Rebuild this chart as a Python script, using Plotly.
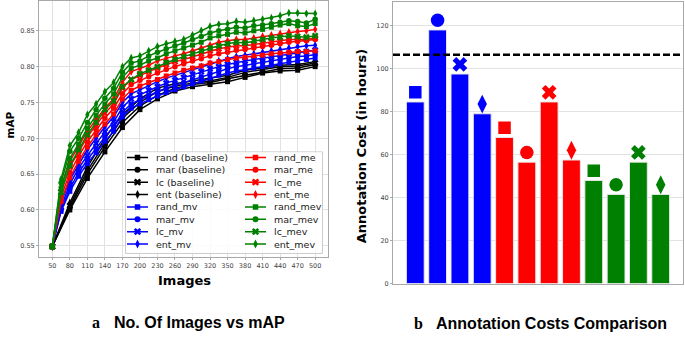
import plotly.graph_objects as go

W, H = 685, 337

# ---------------- data: left chart (mAP vs number of images) ----------------
x_sampled = [50, 65, 80, 95, 110, 125, 140, 155, 170, 185, 200, 215, 230, 245, 260, 275,
             290, 305, 320, 335, 350, 365, 380, 395, 410, 425, 440, 455, 470, 485, 500]
x_baseline = [50, 80, 110, 140, 170, 200, 230, 260, 290, 320, 350, 380, 410, 440, 470, 500]
x_ticks = [50, 80, 110, 140, 170, 200, 230, 260, 290, 320, 350, 380, 410, 440, 470, 500]
y_ticks = [0.55, 0.60, 0.65, 0.70, 0.75, 0.80, 0.85]

rand_baseline = [0.549, 0.600, 0.644, 0.681, 0.715, 0.740, 0.755, 0.766, 0.772, 0.775, 0.779, 0.785, 0.791, 0.794, 0.795, 0.800]
mar_baseline = [0.549, 0.603, 0.650, 0.688, 0.722, 0.745, 0.760, 0.770, 0.775, 0.778, 0.783, 0.788, 0.793, 0.797, 0.798, 0.803]
lc_baseline = [0.549, 0.606, 0.655, 0.693, 0.728, 0.750, 0.765, 0.773, 0.777, 0.780, 0.785, 0.792, 0.796, 0.800, 0.801, 0.805]
ent_baseline = [0.549, 0.610, 0.660, 0.700, 0.733, 0.755, 0.770, 0.776, 0.780, 0.784, 0.788, 0.795, 0.798, 0.802, 0.803, 0.807]

rand_mv = [0.549, 0.598, 0.626, 0.647, 0.665, 0.680, 0.696, 0.710, 0.730, 0.742, 0.748, 0.754, 0.759, 0.764, 0.768, 0.772,
           0.776, 0.780, 0.784, 0.788, 0.791, 0.794, 0.796, 0.798, 0.800, 0.802, 0.804, 0.806, 0.808, 0.810, 0.812]
mar_mv = [0.549, 0.600, 0.630, 0.652, 0.670, 0.686, 0.702, 0.716, 0.736, 0.748, 0.754, 0.760, 0.765, 0.770, 0.774, 0.778,
          0.782, 0.786, 0.790, 0.794, 0.797, 0.800, 0.802, 0.804, 0.806, 0.808, 0.810, 0.812, 0.814, 0.815, 0.817]
lc_mv = [0.549, 0.604, 0.636, 0.658, 0.676, 0.693, 0.709, 0.723, 0.743, 0.755, 0.761, 0.767, 0.772, 0.777, 0.781, 0.785,
         0.789, 0.793, 0.797, 0.800, 0.803, 0.806, 0.808, 0.810, 0.812, 0.814, 0.816, 0.818, 0.820, 0.821, 0.823]
ent_mv = [0.549, 0.610, 0.642, 0.664, 0.684, 0.700, 0.716, 0.730, 0.750, 0.762, 0.768, 0.774, 0.779, 0.784, 0.788, 0.792,
          0.796, 0.800, 0.804, 0.808, 0.811, 0.814, 0.816, 0.818, 0.820, 0.822, 0.824, 0.826, 0.828, 0.829, 0.830]

rand_me = [0.549, 0.612, 0.645, 0.668, 0.688, 0.705, 0.720, 0.734, 0.755, 0.767, 0.773, 0.778, 0.782, 0.787, 0.791, 0.795,
           0.798, 0.801, 0.805, 0.807, 0.810, 0.812, 0.813, 0.815, 0.816, 0.818, 0.819, 0.820, 0.821, 0.821, 0.822]
mar_me = [0.549, 0.618, 0.652, 0.675, 0.695, 0.712, 0.728, 0.742, 0.762, 0.775, 0.781, 0.786, 0.791, 0.796, 0.800, 0.804,
          0.808, 0.811, 0.815, 0.818, 0.820, 0.823, 0.824, 0.826, 0.828, 0.830, 0.832, 0.834, 0.835, 0.836, 0.838]
lc_me = [0.549, 0.625, 0.660, 0.682, 0.702, 0.718, 0.735, 0.748, 0.770, 0.782, 0.788, 0.793, 0.798, 0.803, 0.807, 0.810,
         0.814, 0.818, 0.822, 0.825, 0.827, 0.829, 0.829, 0.831, 0.833, 0.835, 0.836, 0.838, 0.838, 0.838, 0.840]
ent_me = [0.549, 0.632, 0.668, 0.690, 0.710, 0.726, 0.742, 0.755, 0.778, 0.793, 0.797, 0.802, 0.808, 0.812, 0.815, 0.818,
          0.822, 0.826, 0.830, 0.834, 0.836, 0.838, 0.838, 0.840, 0.842, 0.844, 0.846, 0.848, 0.849, 0.850, 0.852]

rand_mev = [0.549, 0.630, 0.672, 0.692, 0.714, 0.732, 0.748, 0.762, 0.785, 0.798, 0.802, 0.808, 0.812, 0.818, 0.822, 0.826,
            0.830, 0.834, 0.840, 0.843, 0.845, 0.848, 0.847, 0.850, 0.852, 0.855, 0.858, 0.860, 0.857, 0.856, 0.860]
mar_mev = [0.549, 0.638, 0.682, 0.700, 0.722, 0.740, 0.756, 0.770, 0.792, 0.805, 0.808, 0.815, 0.820, 0.825, 0.829, 0.833,
           0.838, 0.842, 0.847, 0.850, 0.852, 0.855, 0.854, 0.857, 0.858, 0.860, 0.862, 0.864, 0.863, 0.861, 0.866]
lc_mev = [0.549, 0.625, 0.662, 0.684, 0.705, 0.722, 0.740, 0.752, 0.772, 0.782, 0.790, 0.795, 0.800, 0.806, 0.810, 0.814,
          0.818, 0.822, 0.826, 0.829, 0.832, 0.834, 0.833, 0.836, 0.838, 0.840, 0.841, 0.843, 0.842, 0.841, 0.843]
ent_mev = [0.549, 0.643, 0.690, 0.708, 0.733, 0.748, 0.765, 0.778, 0.800, 0.812, 0.815, 0.822, 0.828, 0.832, 0.835, 0.838,
           0.844, 0.850, 0.856, 0.859, 0.860, 0.863, 0.862, 0.864, 0.866, 0.868, 0.871, 0.875, 0.875, 0.874, 0.874]

# ---------------- data: right chart (annotation cost) ----------------
bar_labels = ["rand_mv", "mar_mv", "lc_mv", "ent_mv",
              "rand_me", "mar_me", "lc_me", "ent_me",
              "rand_mev", "mar_mev", "lc_mev", "ent_mev"]
bar_costs = [84.5, 118, 97.5, 79, 68, 56.5, 84.5, 57.5, 48, 41.5, 56.5, 41.5]
baseline_cost = 106.5
cost_ticks = [0, 20, 40, 60, 80, 100, 120]

# ---------------- styles ----------------
BLACK, BLUE, RED, GREEN = "#000000", "#0000ff", "#ff0000", "#008000"
SYM = {"rand": "square", "mar": "circle", "lc": "x", "ent": "diamond-tall"}
MSIZE = {"rand": 5, "mar": 5.5, "lc": 6, "ent": 6}
BSIZE = {"rand": 12.5, "mar": 13.5, "lc": 13, "ent": 13.5}

series = [
    ("rand (baseline)", "rand", BLACK, x_baseline, rand_baseline),
    ("mar (baseline)", "mar", BLACK, x_baseline, mar_baseline),
    ("lc (baseline)", "lc", BLACK, x_baseline, lc_baseline),
    ("ent (baseline)", "ent", BLACK, x_baseline, ent_baseline),
    ("rand_mv", "rand", BLUE, x_sampled, rand_mv),
    ("mar_mv", "mar", BLUE, x_sampled, mar_mv),
    ("lc_mv", "lc", BLUE, x_sampled, lc_mv),
    ("ent_mv", "ent", BLUE, x_sampled, ent_mv),
    ("rand_me", "rand", RED, x_sampled, rand_me),
    ("mar_me", "mar", RED, x_sampled, mar_me),
    ("lc_me", "lc", RED, x_sampled, lc_me),
    ("ent_me", "ent", RED, x_sampled, ent_me),
    ("rand_mev", "rand", GREEN, x_sampled, rand_mev),
    ("mar_mev", "mar", GREEN, x_sampled, mar_mev),
    ("lc_mev", "lc", GREEN, x_sampled, lc_mev),
    ("ent_mev", "ent", GREEN, x_sampled, ent_mev),
]

fig = go.Figure()

for name, kind, col, xs, ys in series:
    fig.add_trace(go.Scatter(
        x=xs, y=ys, name=name, mode="lines+markers", showlegend=False,
        line=dict(color=col, width=1.5),
        marker=dict(symbol=SYM[kind], size=MSIZE[kind], color=col, opacity=1, line=dict(width=0)),
        xaxis="x", yaxis="y"))

# ---------------- manual legend (matplotlib-like, 2 columns x 8 rows) ----------------
LX0, LX1, LY0, LY1 = 125, 323, 153, 257   # legend box in pixels
fig.add_trace(go.Scatter(
    x=[LX0 + 0.5, LX1 - 0.5, LX1 - 0.5, LX0 + 0.5, LX0 + 0.5],
    y=[LY0 + 0.5, LY0 + 0.5, LY1 - 0.5, LY1 - 0.5, LY0 + 0.5],
    mode="lines", fill="toself", fillcolor="rgba(255,255,255,0.85)",
    line=dict(color="#cccccc", width=1), hoverinfo="skip", showlegend=False,
    xaxis="x3", yaxis="y3"))

row_y0, row_dy = 159.3, 12.53
col_x = [127, 245]
annotations = []
for i, (name, kind, col, xs, ys) in enumerate(series):
    c = 0 if i < 8 else 1
    r = i if i < 8 else i - 8
    yy = row_y0 + r * row_dy
    x0 = col_x[c]
    fig.add_trace(go.Scatter(
        x=[x0, x0 + 10.5, x0 + 21], y=[yy, yy, yy], mode="lines+markers",
        line=dict(color=col, width=1.5),
        marker=dict(symbol=SYM[kind], size=[0, MSIZE[kind] + 0.5, 0], color=col, opacity=1,
                    line=dict(width=0)),
        hoverinfo="skip", showlegend=False, xaxis="x3", yaxis="y3"))
    annotations.append(dict(
        x=x0 + 27, y=yy, xref="x3", yref="y3", text=name, showarrow=False,
        xanchor="left", yanchor="middle",
        font=dict(family="DejaVu Sans", size=9.5, color="#222222")))

# ---------------- right chart ----------------
bar_colors = [BLUE] * 4 + [RED] * 4 + [GREEN] * 4
bar_kinds = ["rand", "mar", "lc", "ent"] * 3
fig.add_trace(go.Bar(
    x=bar_labels, y=bar_costs, width=0.8, marker=dict(color=bar_colors, line=dict(color="#e8e8e8", width=1)),
    showlegend=False, hoverinfo="skip", xaxis="x2", yaxis="y2"))
fig.add_trace(go.Scatter(
    x=bar_labels, y=[v + 4.5 for v in bar_costs], mode="markers", showlegend=False, hoverinfo="skip",
    marker=dict(symbol=[SYM[k] for k in bar_kinds], size=[BSIZE[k] for k in bar_kinds],
                color=bar_colors, opacity=1, line=dict(width=0)),
    xaxis="x2", yaxis="y2"))

fig.add_shape(type="line", xref="x2 domain", yref="y2", x0=0, x1=1,
              y0=baseline_cost, y1=baseline_cost,
              line=dict(color="black", width=2.5, dash="7px,3px"))

# ---------------- axes ----------------
SPINE = "#a8a8a8"
GRID = "#e2e2e2"
TICKFONT = dict(family="DejaVu Sans", size=6.5, color="#444444")

common = dict(showline=True, mirror=True, linecolor=SPINE, linewidth=1, zeroline=False,
              ticks="outside", ticklen=2, tickcolor=SPINE, tickfont=TICKFONT, fixedrange=True)

fig.update_layout(
    width=W, height=H, margin=dict(l=0, r=0, t=0, b=0),
    paper_bgcolor="white", plot_bgcolor="rgba(0,0,0,0)", showlegend=False, hovermode=False,
    xaxis=dict(domain=[39 / W, 328 / W], range=[27.2, 522], tickvals=x_ticks,
               showgrid=True, gridcolor=GRID, anchor="y", **common),
    yaxis=dict(domain=[1 - 260 / H, 1 - 1 / H], range=[0.5345, 0.8916], tickvals=y_ticks,
               tickformat=".2f", showgrid=True, gridcolor=GRID, anchor="x", **common),
    xaxis2=dict(domain=[393 / W, 683 / W], range=[-1, 12], type="category",
                showticklabels=False, showgrid=False, anchor="y2",
                **{k: v for k, v in common.items() if k not in ("ticks",)}),
    yaxis2=dict(domain=[1 - 287 / H, 1 - 2 / H], range=[0, 131], tickvals=cost_ticks,
                showgrid=True, gridcolor=GRID, anchor="x2", **common),
    xaxis3=dict(domain=[LX0 / W, LX1 / W], range=[LX0, LX1], visible=False, anchor="y3", fixedrange=True),
    yaxis3=dict(domain=[1 - LY1 / H, 1 - LY0 / H], range=[LY1, LY0], visible=False, anchor="x3", fixedrange=True),
)


def label(text, px, py, font, angle=0, xanchor="center"):
    return dict(text=text, x=px / W, y=1 - py / H, xref="paper", yref="paper", showarrow=False,
                textangle=angle, xanchor=xanchor, yanchor="middle", font=font)


TITLE_FONT = dict(family="DejaVu Sans", size=13, color="black")
CAP_FONT = dict(family="Liberation Sans", size=16, color="black")
SERIF_FONT = dict(family="Liberation Serif", size=16, color="black")
annotations += [
    label("<b>mAP</b>", 10, 127, dict(family="DejaVu Sans", size=10.5, color="black"), angle=-90),
    label("<b>Images</b>", 184, 284, TITLE_FONT),
    label("<b>Annotation Cost (in hours)</b>", 361, 147, TITLE_FONT, angle=-90),
    label("<b>a</b>", 96, 326, SERIF_FONT),
    label("<b>No. Of Images vs mAP</b>", 111.7, 326, CAP_FONT, xanchor="left"),
    label("<b>b</b>", 418, 327, SERIF_FONT),
    label("<b>Annotation Costs Comparison</b>", 434.3, 327, CAP_FONT, xanchor="left"),
]
fig.update_layout(annotations=annotations)

fig.write_html("out.html", config={"displayModeBar": False},
               post_script="document.body.style.margin='0';")
